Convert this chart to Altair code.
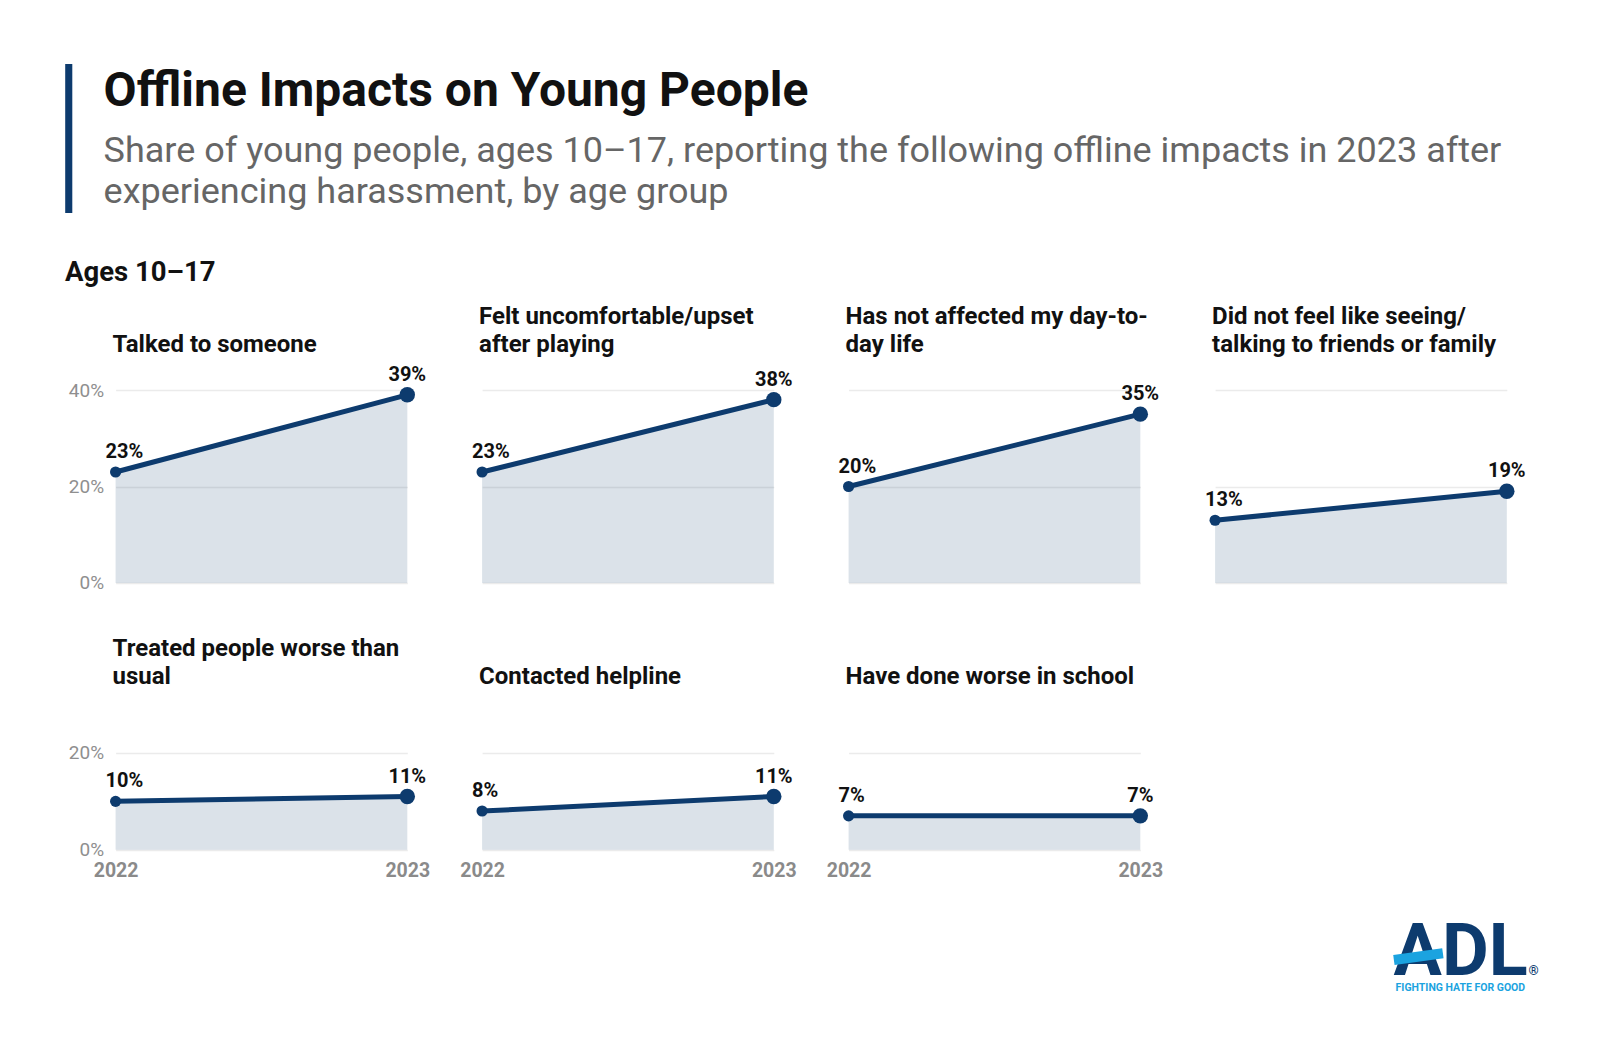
import altair as alt
import pandas as pd

NAVY = "#0d3b6e"
LIGHT_BLUE = "#1ba3e0"

title_text = "Offline Impacts on Young People"
subtitle_lines = [
    "Share of young people, ages 10\u201317, reporting the following offline impacts in 2023 after",
    "experiencing harassment, by age group",
]
group_label = "Ages 10\u201317"

panel_titles = [
    ["Talked to someone"],
    ["Felt uncomfortable/upset", "after playing"],
    ["Has not affected my day-to-", "day life"],
    ["Did not feel like seeing/", "talking to friends or family"],
    ["Treated people worse than", "usual"],
    ["Contacted helpline"],
    ["Have done worse in school"],
]
years = [2022, 2023]
values_2022 = [23, 23, 20, 13, 10, 8, 7]
values_2023 = [39, 38, 35, 19, 11, 11, 7]
row_of_panel = [0, 0, 0, 0, 1, 1, 1]
row_y_max = [40, 20]
row_y_ticks = [[0, 20, 40], [0, 20]]

PANEL_W = 291.7
ROW_H = [193, 96.7]
HEADER_H = 155.5
ANCHOR_TOP = 30
ROW_TITLE_OFFSET = [2.8, 33.7]

one = pd.DataFrame({"a": [0]})


def panel(i):
    row = row_of_panel[i]
    first_col = i in (0, 4)
    df = pd.DataFrame({"year": years, "value": [values_2022[i], values_2023[i]]})
    df["label"] = df["value"].astype(str) + "%"

    x_axis = alt.Axis(
        values=years, format="d", labels=(row == 1), ticks=False, domain=False,
        grid=False, title=None, labelFont="Roboto", labelFontWeight="bold",
        labelFontSize=19.5, labelColor="#8a8a8a", labelPadding=12, labelFlush=False,
    )
    y_axis = alt.Axis(
        values=row_y_ticks[row], labels=first_col, labelExpr="datum.value + '%'",
        ticks=False, domain=False, title=None, grid=True, gridColor="#ebebeb",
        gridWidth=1.5, labelFont="Roboto", labelFontSize=19, labelColor="#8f8f8f",
        labelPadding=12,
    )
    x = alt.X("year:Q", scale=alt.Scale(domain=years, nice=False, zero=False), axis=x_axis)
    y = alt.Y("value:Q", scale=alt.Scale(domain=[0, row_y_max[row]], nice=False), axis=y_axis)

    base = alt.Chart(df).encode(x=x, y=y)
    area = base.mark_area(color=NAVY, opacity=0.15)
    line = base.mark_line(color=NAVY, strokeWidth=5)
    pts = base.mark_circle(color=NAVY, opacity=1).encode(
        size=alt.condition("datum.year == 2023", alt.value(238), alt.value(125))
    )
    txt = dict(baseline="alphabetic", font="Roboto", fontWeight="bold", fontSize=20,
               color="#111111", dy=-14)
    lab0 = base.transform_filter("datum.year == 2022").mark_text(align="left", dx=-10, **txt).encode(text="label:N")
    lab1 = base.transform_filter("datum.year == 2023").mark_text(align="center", **txt).encode(text="label:N")
    # invisible anchor so that every panel's title is measured from the same top edge
    anchor = alt.Chart(one).mark_rect(opacity=0).encode(
        x=alt.value(0), x2=alt.value(0), y=alt.value(-ANCHOR_TOP), y2=alt.value(-ANCHOR_TOP)
    )

    return alt.layer(area, line, pts, lab0, lab1, anchor).properties(
        width=PANEL_W, height=ROW_H[row],
        title=alt.Title(text=panel_titles[i], anchor="start", frame="group", font="Roboto",
                        fontSize=24, fontWeight="bold", color="#111111", lineHeight=28.5,
                        offset=ROW_TITLE_OFFSET[row], dx=-3),
    )


def txt_mark(text, x, y, size, weight="normal", color="#111111", align="left"):
    return alt.Chart(one).mark_text(
        align=align, baseline="alphabetic", font="Roboto", fontSize=size,
        fontWeight=weight, color=color,
    ).encode(x=alt.value(x), y=alt.value(y), text=alt.value(text))


bar = alt.Chart(one).mark_rect(color=NAVY).encode(
    x=alt.value(-50.4), x2=alt.value(-43.3), y=alt.value(0), y2=alt.value(149)
)
stripe = alt.Chart(one).mark_rule(color=LIGHT_BLUE, strokeWidth=10).encode(
    x=alt.value(1278.3), x2=alt.value(1327.3), y=alt.value(896), y2=alt.value(889.3)
)
header = alt.layer(
    bar,
    txt_mark(title_text, -12, 41.5, 48, "bold"),
    txt_mark(subtitle_lines[0], -12, 97.7, 36, "normal", "#666666"),
    txt_mark(subtitle_lines[1], -12, 139, 36, "normal", "#666666"),
    txt_mark(group_label, -50.5, 216.7, 27.5, "bold"),
    txt_mark("ADL", 1278, 911, 72, "bold", NAVY),
    stripe,
    txt_mark("\u00ae", 1413, 911, 13, "bold", NAVY),
    txt_mark("FIGHTING HATE FOR GOOD", 1280, 927.5, 10.5, "bold", LIGHT_BLUE),
).properties(width=PANEL_W, height=HEADER_H)


def blank():
    return alt.Chart(one).mark_rect(opacity=0).encode(
        x=alt.value(0), x2=alt.value(0), y=alt.value(0), y2=alt.value(0)
    ).properties(width=PANEL_W, height=HEADER_H)


cells = [header, blank(), blank(), blank()] + [panel(i) for i in range(7)]

chart = alt.concat(
    *cells, columns=4, spacing={"row": 170, "column": 74.5}, bounds="flush", align="each"
).configure(
    font="Roboto", background="white",
    padding={"left": 56.6, "top": 56, "right": 10, "bottom": 10},
).configure_view(stroke="transparent", strokeWidth=0)

chart.save("out.html", embed_options={"renderer": "svg", "actions": False})
